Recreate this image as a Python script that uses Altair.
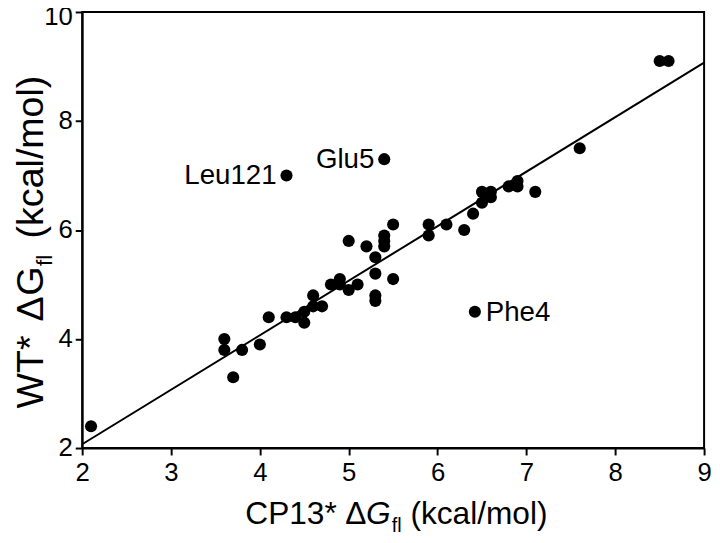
import altair as alt
import pandas as pd

# ---- data ----
cp13 = [2.1, 3.6, 3.6, 3.7, 3.8, 4.0, 4.1, 4.3, 4.4, 4.5, 4.5, 4.6, 4.6, 4.7,
        4.8, 4.9, 4.9, 5.0, 5.0, 5.1, 5.2, 5.3, 5.3, 5.3, 5.3, 5.4, 5.4, 5.4,
        5.5, 5.5, 5.9, 5.9, 6.1, 6.3, 6.4, 6.5, 6.5, 6.6, 6.6, 6.8, 6.9, 6.9,
        7.1, 7.6, 8.5, 8.6]
wt = [2.4, 4.0, 3.8, 3.3, 3.8, 3.9, 4.4, 4.4, 4.4, 4.5, 4.3, 4.8, 4.6, 4.6,
      5.0, 5.1, 5.0, 4.9, 5.8, 5.0, 5.7, 5.5, 5.2, 4.8, 4.7, 5.9, 5.8, 5.7,
      6.1, 5.1, 6.1, 5.9, 6.1, 6.0, 6.3, 6.5, 6.7, 6.7, 6.6, 6.8, 6.9, 6.8,
      6.7, 7.5, 9.1, 9.1]

left_names = ["Leu121", "Glu5"]
left_x = [4.3, 5.4]
left_y = [7.0, 7.3]
right_names = ["Phe4"]
right_x = [6.42]
right_y = [4.5]

fit_x = [2.0, 9.0]
fit_y = [2.07, 9.07]

x_ticks = [2, 3, 4, 5, 6, 7, 8, 9]
y_ticks = [2, 4, 6, 8, 10]

FONT = "Liberation Sans"

pts = pd.DataFrame({"x": cp13 + left_x + right_x, "y": wt + left_y + right_y})
fit = pd.DataFrame({"x": fit_x, "y": fit_y})
lab_l = pd.DataFrame({"x": left_x, "y": left_y, "t": left_names})
lab_r = pd.DataFrame({"x": right_x, "y": right_y, "t": right_names})

xs = alt.Scale(domain=[2, 9], nice=False, zero=False)
ys = alt.Scale(domain=[2, 10], nice=False, zero=False)

xax = alt.Axis(values=x_ticks, format="d", title=None, grid=False, tickSize=7, tickWidth=2,
               domainWidth=2, domainColor="black", tickColor="black",
               labelColor="black", labelFont=FONT, labelFontSize=26,
               labelPadding=5, labelFlush=False)
yax = alt.Axis(values=y_ticks, format="d", title=None, grid=False, tickSize=7, tickWidth=2,
               domainWidth=2, domainColor="black", tickColor="black",
               labelColor="black", labelFont=FONT, labelFontSize=26,
               labelPadding=3, labelFlush=False,
               labelOffset=alt.condition("datum.value == 10", alt.value(5), alt.value(0)))

base_pts = alt.Chart(pts).mark_circle(size=150, color="black", opacity=1).encode(
    x=alt.X("x:Q", scale=xs, axis=xax),
    y=alt.Y("y:Q", scale=ys, axis=yax),
)

line = alt.Chart(fit).mark_line(color="black", strokeWidth=2).encode(
    x=alt.X("x:Q", scale=xs), y=alt.Y("y:Q", scale=ys))

txt_l = alt.Chart(lab_l).mark_text(align="right", baseline="middle", dx=-10, dy=1,
                                   font=FONT, fontSize=28, color="black").encode(
    x=alt.X("x:Q", scale=xs), y=alt.Y("y:Q", scale=ys), text="t:N")
txt_r = alt.Chart(lab_r).mark_text(align="left", baseline="middle", dx=11, dy=1,
                                   font=FONT, fontSize=28, color="black").encode(
    x=alt.X("x:Q", scale=xs), y=alt.Y("y:Q", scale=ys), text="t:N")

dummy = pd.DataFrame({"d": [0]})

def piece(text, x, y, size, angle=0, style="normal"):
    return alt.Chart(dummy).mark_text(
        text=text, align="left", baseline="alphabetic", font=FONT,
        fontSize=size, fontStyle=style, angle=angle, color="black"
    ).encode(x=alt.value(x), y=alt.value(y))

# x-axis title: CP13* ΔG_fl (kcal/mol)
xt = [
    piece("CP13*", 165, 518, 32),
    piece("Δ", 266, 518, 32),
    piece("G", 287, 518, 32, style="italic"),
    piece("fl", 313, 526, 20),
    piece("(kcal/mol)", 332, 518, 32),
]
# y-axis title: WT* ΔG_fl (kcal/mol), rotated
yt = [
    piece("WT*", -40, 401, 38, angle=270),
    piece("Δ", -40, 313, 38, angle=270),
    piece("G", -40, 287, 38, angle=270),
    piece("fl", -31, 257, 23, angle=270),
    piece("(kcal/mol)", -40, 229, 38, angle=270),
]

chart = alt.layer(base_pts, line, txt_l, txt_r, *xt, *yt).properties(
    width=629, height=441,
    autosize=alt.AutoSizeParams(type="none"),
    padding={"left": 75, "top": 1, "right": 8, "bottom": 93},
).configure_view(stroke="black", strokeWidth=2)

chart.save("out.html", embed_options={"renderer": "svg", "actions": False})
